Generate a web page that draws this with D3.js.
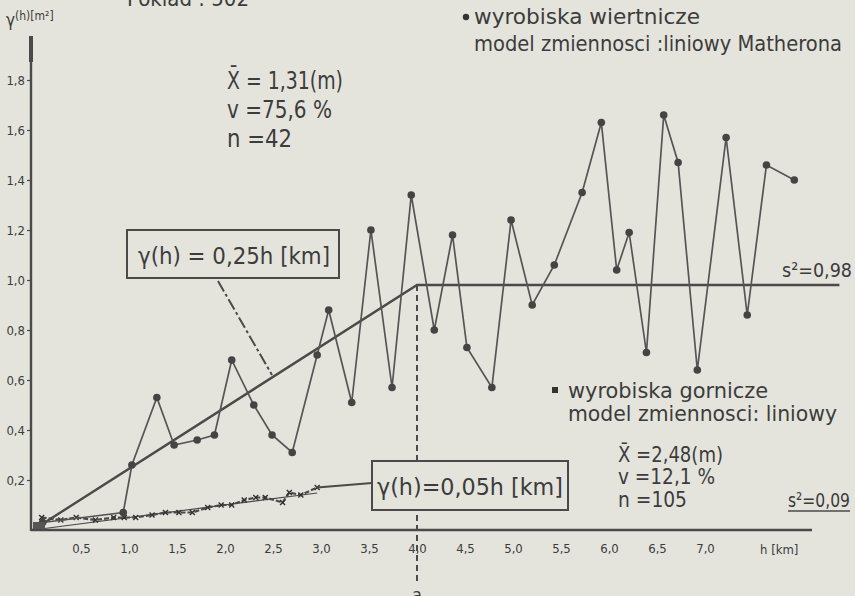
<!DOCTYPE html>
<html><head><meta charset="utf-8">
<script src="https://cdn.jsdelivr.net/npm/d3@7"></script>
<style>html,body{margin:0;padding:0;background:#e4e4dc;} svg{display:block;}</style>
</head><body><svg id="c" width="855" height="596"></svg>
<script>
// ---- data ----
const upperH = [0.10, 0.94, 1.03, 1.29, 1.47, 1.71, 1.89, 2.07, 2.30, 2.49, 2.70, 2.96, 3.08, 3.32, 3.52, 3.74, 3.94, 4.18, 4.37, 4.52, 4.78, 4.98, 5.20, 5.43, 5.72, 5.92, 6.08, 6.21, 6.39, 6.57, 6.72, 6.92, 7.22, 7.44, 7.64, 7.93];
const upperV = [0.03, 0.07, 0.26, 0.53, 0.34, 0.36, 0.38, 0.68, 0.50, 0.38, 0.31, 0.70, 0.88, 0.51, 1.20, 0.57, 1.34, 0.80, 1.18, 0.73, 0.57, 1.24, 0.90, 1.06, 1.35, 1.63, 1.04, 1.19, 0.71, 1.66, 1.47, 0.64, 1.57, 0.86, 1.46, 1.40];
const lowerH = [0.09, 0.29, 0.45, 0.65, 0.84, 0.95, 1.07, 1.24, 1.38, 1.52, 1.66, 1.82, 1.96, 2.07, 2.20, 2.32, 2.42, 2.60, 2.67, 2.79, 2.96];
const lowerV = [0.05, 0.04, 0.05, 0.04, 0.05, 0.05, 0.05, 0.06, 0.07, 0.07, 0.07, 0.09, 0.10, 0.10, 0.12, 0.13, 0.13, 0.11, 0.15, 0.14, 0.17];
const xTicks = [0.5, 1.0, 1.5, 2.0, 2.5, 3.0, 3.5, 4.0, 4.5, 5.0, 5.5, 6.0, 6.5, 7.0];
const xTickLabels = ["0,5","1,0","1,5","2,0","2,5","3,0","3,5","4,0","4,5","5,0","5,5","6,0","6,5","7,0"];
const yTicks = [0.2, 0.4, 0.6, 0.8, 1.0, 1.2, 1.4, 1.6, 1.8];
const yTickLabels = ["0,2","0,4","0,6","0,8","1,0","1,2","1,4","1,6","1,8"];
const sillUpper = 0.98, rangeA = 4.0, slopeLower = 0.05, lowerModelEnd = 2.96, sillEnd = 8.4;

const FF = "'DejaVu Sans Condensed','Liberation Sans Narrow','DejaVu Sans',sans-serif";
const INK = "#4a4a4a", TXT = "#3c3c3c";
const svg = d3.select("#c");
const x = d3.scaleLinear().domain([0, 8]).range([33, 801]);
const y = d3.scaleLinear().domain([0, 1.8]).range([530, 80]);

svg.append("rect").attr("width",855).attr("height",596).attr("fill","#e4e4dc");

// axes
const gx = svg.append("g").attr("transform","translate(0,530)")
  .call(d3.axisBottom(x).tickValues(xTicks).tickFormat((d,i)=>xTickLabels[i]).tickSize(0).tickPadding(14));
const gy = svg.append("g").attr("transform",`translate(${x(0)-2},0)`)
  .call(d3.axisLeft(y).tickValues(yTicks).tickFormat((d,i)=>yTickLabels[i]).tickSize(4).tickPadding(2));
[gx,gy].forEach(g=>{
  g.select(".domain").remove();
  g.selectAll("text").attr("font-family",FF).attr("font-size",13).attr("fill",TXT);
  g.selectAll("line").attr("stroke",INK).attr("stroke-width",1.2);
});
svg.append("line").attr("x1",x(0)-2).attr("x2",812).attr("y1",y(0)).attr("y2",y(0)).attr("stroke",INK).attr("stroke-width",2.6);
svg.append("line").attr("x1",x(0)-2).attr("x2",x(0)-2).attr("y1",y(0)+1).attr("y2",36).attr("stroke",INK).attr("stroke-width",2.4);
svg.append("line").attr("x1",x(0)-2).attr("x2",x(0)-2).attr("y1",36).attr("y2",62).attr("stroke",INK).attr("stroke-width",4);
svg.append("text").attr("x",760).attr("y",554).attr("font-family",FF).attr("font-size",13).attr("fill",TXT).text("h [km]");

// y title
const yt = svg.append("text").attr("x",6).attr("y",26).attr("font-family",FF).attr("fill",TXT);
yt.append("tspan").attr("font-size",17).text("γ");
yt.append("tspan").attr("font-size",12).attr("dy",-6).text("(h)[m²]");

// title (cut at the top edge as in the scan)
svg.append("text").attr("x",127).attr("y",6).attr("font-family",FF).attr("font-size",22).attr("fill",TXT).text("Pokład : 502");

// upper model line (linear Matheron with sill)
svg.append("path").attr("d", d3.line().x(d=>x(d[0])).y(d=>y(d[1]))([[0,0],[rangeA,sillUpper],[sillEnd,sillUpper]]))
  .attr("fill","none").attr("stroke",INK).attr("stroke-width",2.4);

// range dashed line
svg.append("line").attr("x1",x(rangeA)).attr("x2",x(rangeA)).attr("y1",y(sillUpper)).attr("y2",583)
  .attr("stroke",INK).attr("stroke-width",2).attr("stroke-dasharray","6,4");
svg.append("text").attr("x",x(rangeA)).attr("y",601).attr("text-anchor","middle").attr("font-family",FF).attr("font-size",18).attr("fill",TXT).text("a");

// lower model line
svg.append("path").attr("d", d3.line().x(d=>x(d[0])).y(d=>y(d[1]))([[0,0],[lowerModelEnd,slopeLower*lowerModelEnd]]))
  .attr("fill","none").attr("stroke",INK).attr("stroke-width",1.2);
// lower series
const lowerPts = lowerH.map((h,i)=>[h,lowerV[i]]);
svg.append("path").attr("d", d3.line().x(d=>x(d[0])).y(d=>y(d[1]))(lowerPts))
  .attr("fill","none").attr("stroke",INK).attr("stroke-width",2.2).attr("stroke-dasharray","5,2");
svg.append("g").selectAll("path").data(lowerPts).join("path")
  .attr("d",d=>{const cx=x(d[0]),cy=y(d[1]),s=2.5;return `M${cx-s},${cy-s}L${cx+s},${cy+s}M${cx-s},${cy+s}L${cx+s},${cy-s}`;})
  .attr("stroke","#333").attr("stroke-width",1.4);
svg.append("line").attr("x1",x(lowerH[lowerH.length-1])).attr("y1",y(lowerV[lowerV.length-1]))
  .attr("x2",372).attr("y2",483).attr("stroke",INK).attr("stroke-width",1.8);

// upper series
const upperPts = upperH.map((h,i)=>[h,upperV[i]]);
svg.append("path").attr("d", d3.line().x(d=>x(d[0])).y(d=>y(d[1]))(upperPts))
  .attr("fill","none").attr("stroke","#555").attr("stroke-width",1.7);
svg.append("g").selectAll("circle").data(upperPts).join("circle")
  .attr("cx",d=>x(d[0])).attr("cy",d=>y(d[1])).attr("r",3.8).attr("fill","#444");
svg.append("rect").attr("x",x(0)).attr("y",y(0)-8).attr("width",12).attr("height",7).attr("fill","#555");

// boxes
function box(x0,y0,x1,y1){svg.append("rect").attr("x",x0).attr("y",y0).attr("width",x1-x0).attr("height",y1-y0)
  .attr("fill","#e4e4dc").attr("stroke",INK).attr("stroke-width",2);}
box(127,230,339,278);
svg.append("line").attr("x1",218).attr("y1",281).attr("x2",272).attr("y2",375).attr("stroke",INK).attr("stroke-width",2).attr("stroke-dasharray","12,3,3,3");
svg.append("text").attr("x",138).attr("y",264).attr("font-family",FF).attr("font-size",23).attr("fill",TXT)
  .attr("textLength",192).attr("lengthAdjust","spacingAndGlyphs").text("γ(h) = 0,25h [km]");
box(372,461,568,510);
svg.append("text").attr("x",377).attr("y",495).attr("font-family",FF).attr("font-size",23).attr("fill",TXT)
  .attr("textLength",186).attr("lengthAdjust","spacingAndGlyphs").text("γ(h)=0,05h [km]");

// annotations
function t(xp,yp,str,fs,len){const e=svg.append("text").attr("x",xp).attr("y",yp).attr("font-family",FF).attr("font-size",fs).attr("fill",TXT).text(str);
  if(len) e.attr("textLength",len).attr("lengthAdjust","spacingAndGlyphs"); return e;}
t(227,89,"X\u0304 = 1,31(m)",25,116);
t(227,118,"v =75,6 %",25,105);
t(227,147,"n =42",25,65);
svg.append("circle").attr("cx",466).attr("cy",17).attr("r",3.2).attr("fill","#333");
t(474,24,"wyrobiska wiertnicze",21,226);
t(474,51,"model zmiennosci :liniowy Matherona",21,368);
t(782,277,"s²=0,98",20,70);
svg.append("rect").attr("x",552).attr("y",387).attr("width",6).attr("height",6).attr("fill","#333");
t(568,398,"wyrobiska gornicze",21,200);
t(568,421,"model zmiennosci: liniowy",21,269);
t(618,462,"X\u0304 =2,48(m)",21,105);
t(618,484,"v =12,1 %",21,97);
t(618,507,"n =105",21,69);
t(788,507,"s²=0,09",20,62);
svg.append("line").attr("x1",788).attr("x2",850).attr("y1",511).attr("y2",511).attr("stroke",INK).attr("stroke-width",1.5);
</script></body></html>
